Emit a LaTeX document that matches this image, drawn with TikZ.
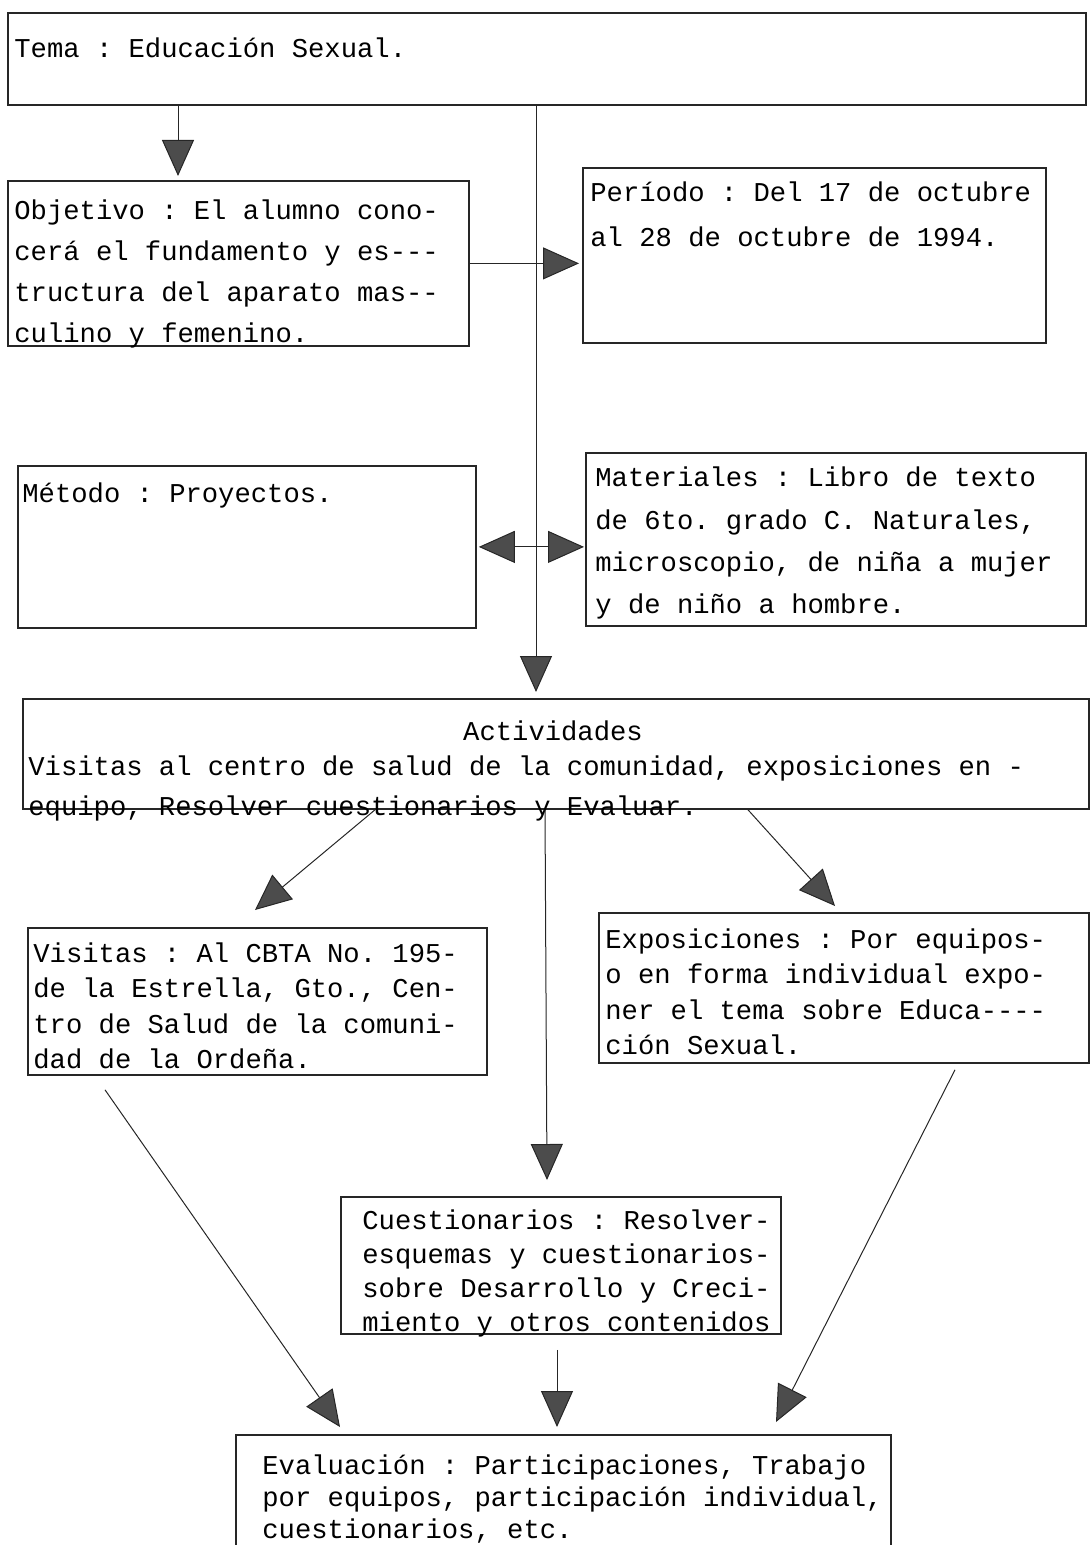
\documentclass[tikz,border=0pt]{standalone}
\usepackage{fontspec}
\newfontfamily\mono{Liberation Mono}
\newcommand{\monof}[2]{\mono\fontsize{#1}{#2}\selectfont\fontdimen2\font=0.6em\fontdimen3\font=0pt\fontdimen4\font=0pt\fontdimen7\font=0pt\frenchspacing}
\usetikzlibrary{arrows.meta,calc}
\begin{document}
\begin{tikzpicture}[x=0.5pt,y=-0.5pt,
  box/.style={draw=black!85,line width=0.9pt,rectangle,inner sep=0pt,anchor=north west},
  txt/.style={anchor=base west,inner sep=0pt,align=left,text width=560pt,
    execute at begin node={\spaceskip=0pt\xspaceskip=0pt}},
  arr/.style={draw=black!85,line width=0.5pt,-{Triangle[length=18pt,width=16pt,fill=black!70]}},
  darr/.style={draw=black!85,line width=0.5pt,{Triangle[length=18pt,width=16pt,fill=black!70]}-{Triangle[length=18pt,width=16pt,fill=black!70]}}
]
\useasboundingbox (0,0) rectangle (1090,1545);
% boxes
\node[box,minimum width=539pt,minimum height=46pt] (tema) at (7,12) {};
\node[box,minimum width=230.5pt,minimum height=82.5pt] (obj) at (7,180) {};
\node[box,minimum width=231.5pt,minimum height=87.5pt] (per) at (582,167) {};
\node[box,minimum width=229pt,minimum height=81pt] (met) at (17,465) {};
\node[box,minimum width=250pt,minimum height=86.5pt] (mat) at (585,452) {};
\node[box,minimum width=533pt,minimum height=55pt] (act) at (22,698) {};
\node[box,minimum width=229.5pt,minimum height=73.5pt] (vis) at (27,927) {};
\node[box,minimum width=245pt,minimum height=75pt] (exp) at (598,912) {};
\node[box,minimum width=220pt,minimum height=68.5pt] (cue) at (340,1196) {};
\node[box,minimum width=327.5pt,minimum height=55.5pt] (eva) at (235,1434) {};
% texts
\node[txt,font={\monof{13.6}{20.5}}] (tematxt) at (14,58) {Tema : Educación Sexual.};
\node[txt,font={\monof{13.6}{20.5}}] (objtxt) at (14,220) {Objetivo : El alumno cono-\\cerá el fundamento y es-{}-{}-\\tructura del aparato mas-{}-\\culino y femenino.};
\node[txt,font={\monof{13.6}{22.5}}] (pertxt) at (590,202) {Período : Del 17 de octubre\\al 28 de octubre de 1994.};
\node[txt,font={\monof{13.6}{20.5}}] (mettxt) at (22,502) {Método : Proyectos.};
\node[txt,font={\monof{13.6}{21}}] (mattxt) at (595,487) {Materiales : Libro de texto\\de 6to. grado C. Naturales,\\microscopio, de niña a mujer\\y de niño a hombre.};
\node[anchor=base,inner sep=0pt,font={\monof{13.6}{20}}] (acthead) at (553,740) {Actividades};
\node[txt,font={\monof{13.6}{20}}] (acttxt) at (28,775) {Visitas al centro de salud de la comunidad, exposiciones en -\\equipo, Resolver cuestionarios y Evaluar.};
\node[txt,font={\monof{13.6}{17.75}}] (vistxt) at (33,962) {Visitas : Al CBTA No. 195-\\de la Estrella, Gto., Cen-\\tro de Salud de la comuni-\\dad de la Ordeña.};
\node[txt,font={\monof{13.6}{17.75}}] (exptxt) at (605,948) {Exposiciones : Por equipos-\\o en forma individual expo-\\ner el tema sobre Educa-{}-{}-{}-\\ción Sexual.};
\node[txt,font={\monof{13.6}{17}}] (cuetxt) at (362,1229) {Cuestionarios : Resolver-\\esquemas y cuestionarios-\\sobre Desarrollo y Creci-\\miento y otros contenidos};
\node[txt,font={\monof{13.6}{16}}] (evatxt) at (262,1474) {Evaluación : Participaciones, Trabajo\\por equipos, participación individual,\\cuestionarios, etc.};
% connectors
\draw[arr] ($(tema.south west)+(171,0)$) -- ($(obj.north west)+(171,-4)$);
\draw[arr] ($(tema.south west)+(529,0)$) -- ($(act.north west)+(514,-6)$);
\draw[arr] (obj.east) -- ($(per.west |- obj.east)+(-3,0)$);
\draw[darr] ($(met.east)+(2,0)$) -- ($(mat.west |- met.east)+(-1,0)$);
\draw[arr] ($(act.south west)+(353,0)$) -- ($(vis.north west)+(228,-17)$);
\draw[arr] ($(act.south west)+(726,0)$) -- ($(exp.north west)+(237,-6)$);
\draw[arr] ($(act.south west)+(523,0)$) -- ($(cue.north west)+(207,-16)$);
\draw[arr] ($(vis.south west)+(78,14)$) -- ($(eva.north west)+(105,-7)$);
\draw[arr] ($(cue.south west)+(217,15)$) -- ($(eva.north west)+(322,-7)$);
\draw[arr] ($(exp.south west)+(357,6)$) -- ($(eva.north west)+(541,-12)$);
\end{tikzpicture}
\end{document}
